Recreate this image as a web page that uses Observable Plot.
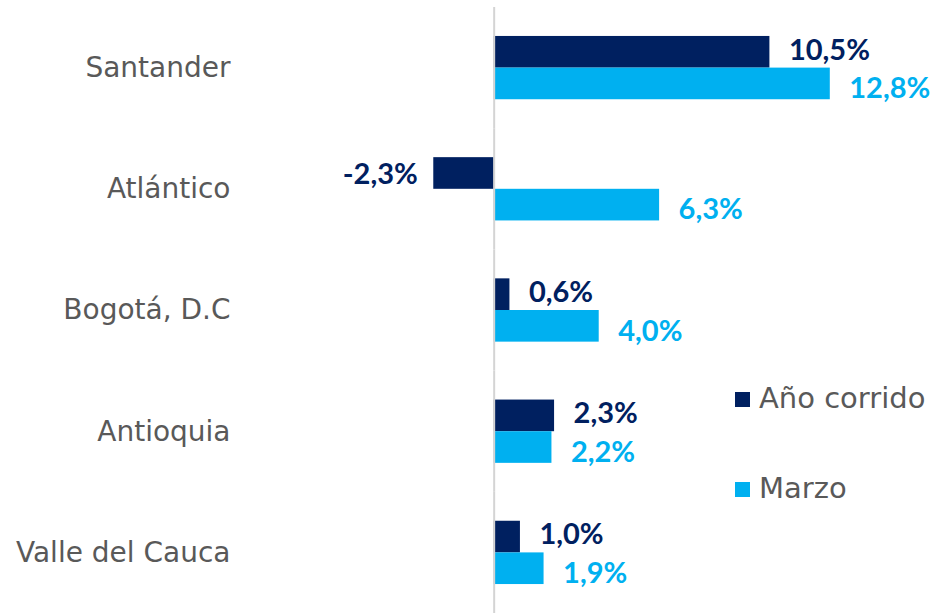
<!DOCTYPE html>
<html>
<head>
<meta charset="utf-8">
<script src="https://cdn.jsdelivr.net/npm/d3@7"></script>
<script src="https://cdn.jsdelivr.net/npm/@observablehq/plot@0.6"></script>
<style>
  html, body { margin: 0; padding: 0; background: #fff; }
  #wrap { position: relative; width: 933px; height: 613px; overflow: hidden; }
  .lg { position: absolute; font-family: "DejaVu Sans", sans-serif; font-size: 29px; color: #595959; line-height: 1; white-space: nowrap; }
  .sw { position: absolute; width: 15px; height: 15px; }
</style>
</head>
<body>
<div id="wrap"></div>
<script>
const regions = ["Santander", "Atlántico", "Bogotá, D.C", "Antioquia", "Valle del Cauca"];
const series = ["Año corrido", "Marzo"];
const anoCorrido = [10.5, -2.3, 0.6, 2.3, 1.0];
const marzo = [12.8, 6.3, 4.0, 2.2, 1.9];
const colors = ["#002060", "#00B0F0"];

const rows = [];
regions.forEach((r, i) => {
  rows.push({region: r, series: series[0], value: anoCorrido[i]});
  rows.push({region: r, series: series[1], value: marzo[i]});
});
const fmt = v => v.toFixed(1).replace(".", ",") + "%";

const labelStyle = {fontFamily: "Lato, sans-serif", fontWeight: "bold", fontSize: 29};
function labels(seriesName, dy) {
  return [
    Plot.text(rows, {
      filter: d => d.series === seriesName && d.value >= 0,
      x: "value", y: "series", fy: "region", fill: "series",
      text: d => fmt(d.value), textAnchor: "start", dx: 19, dy, ...labelStyle
    }),
    Plot.text(rows, {
      filter: d => d.series === seriesName && d.value < 0,
      x: "value", y: "series", fy: "region", fill: "series",
      text: d => fmt(d.value), textAnchor: "end", dx: -16, dy: dy + 3, ...labelStyle
    })
  ];
}

const chart = Plot.plot({
  width: 933,
  height: 613,
  marginLeft: 240,
  marginRight: 0,
  marginTop: 7,
  marginBottom: 0,
  style: {background: "transparent", overflow: "visible"},
  x: {domain: [-9.66, 16.73], axis: null},
  y: {domain: series, axis: null, paddingInner: 0, paddingOuter: 0.915, round: false},
  fy: {domain: regions, padding: 0, axis: null, round: false},
  color: {domain: series, range: colors},
  marks: [
    Plot.barX(rows, {x: "value", y: "series", fy: "region", fill: "series", insetTop: 0, insetBottom: 0}),
    Plot.ruleX([0], {stroke: "#d4d4d4", strokeWidth: 2}),
    ...labels(series[0], -2),
    ...labels(series[1], 5),
    Plot.axisFy({
      anchor: "left", tickSize: 0, tickPadding: 10, label: null,
      fontFamily: "DejaVu Sans, sans-serif", fontSize: 28, fill: "#595959"
    })
  ]
});

const wrap = document.getElementById("wrap");
wrap.appendChild(chart);

// legend
const legendTops = [391, 481];
series.forEach((s, i) => {
  const sw = document.createElement("div");
  sw.className = "sw";
  sw.style.left = "735px";
  sw.style.top = (legendTops[i] + 1) + "px";
  sw.style.background = colors[i];
  wrap.appendChild(sw);
  const t = document.createElement("div");
  t.className = "lg";
  t.style.left = "759px";
  t.style.top = (legendTops[i] - 7) + "px";
  t.textContent = s;
  wrap.appendChild(t);
});
</script>
</body>
</html>
